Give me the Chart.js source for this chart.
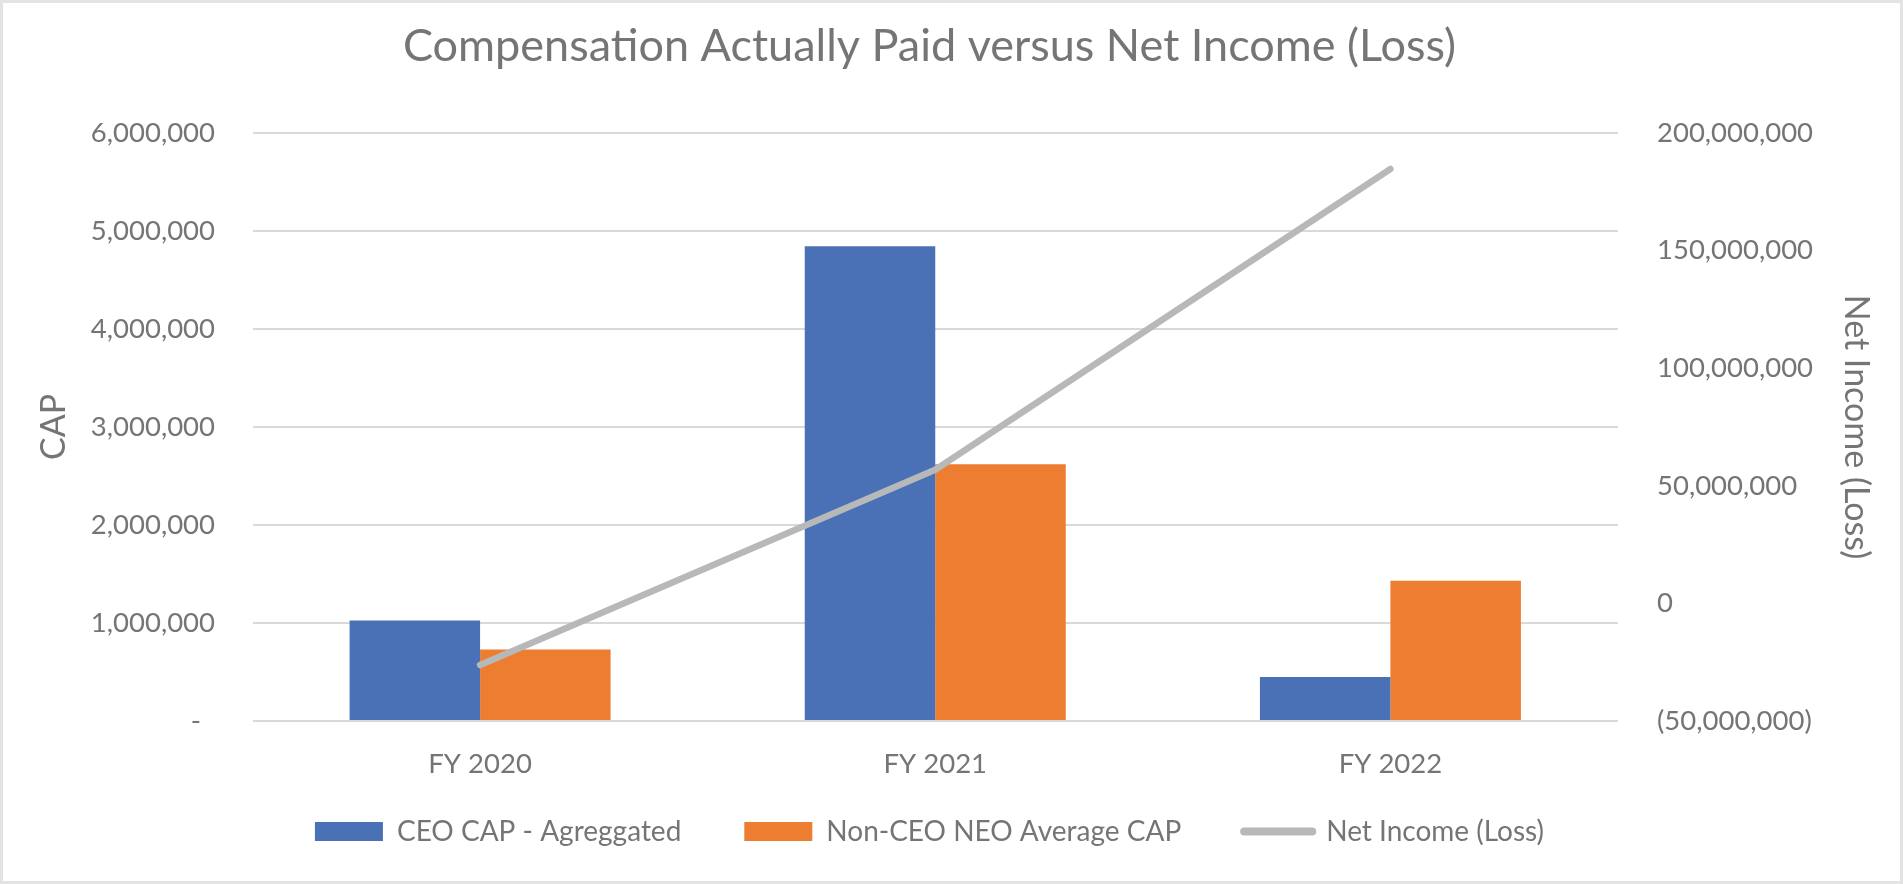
<!DOCTYPE html>
<html>
<head>
<meta charset="utf-8">
<script src="https://cdn.jsdelivr.net/npm/chart.js@4/dist/chart.umd.min.js"></script>
<style>
  html, body { margin: 0; padding: 0; background: #ffffff; overflow: hidden; }
  #wrap { position: absolute; left: -44px; top: 0; width: 1947px; height: 884px; }
  #frame { position: absolute; left: 0; top: 0; width: 1903px; height: 884px; box-sizing: border-box; border: 3px solid #e3e3e3; pointer-events: none; }
</style>
</head>
<body>
<div id="wrap"><canvas id="c" width="1947" height="884"></canvas></div>
<div id="frame"></div>
<script>
const chartTitle = 'Compensation Actually Paid versus Net Income (Loss)';
const categories = ['FY 2020', 'FY 2021', 'FY 2022'];
const seriesNames = ['CEO CAP - Agreggated', 'Non-CEO NEO Average CAP', 'Net Income (Loss)'];
const ceoCap = [1025000, 4845000, 450000];
const nonCeoCap = [730000, 2620000, 1430000];
const netIncome = [-26200000, 56800000, 184700000];
const leftAxisTitle = 'CAP';
const rightAxisTitle = 'Net Income (Loss)';
const leftTicks = [0, 1000000, 2000000, 3000000, 4000000, 5000000, 6000000];
const rightTicks = [-50000000, 0, 50000000, 100000000, 150000000, 200000000];

const TEXT = '#757575';
const BLUE = '#4a70b6';
const ORANGE = '#ed7d31';
const GRAY = '#b7b8ba';
Chart.defaults.font.family = 'Lato';
Chart.defaults.color = TEXT;

function fmt(v) { return Math.abs(v).toLocaleString('en-US'); }

new Chart(document.getElementById('c'), {
  type: 'bar',
  data: {
    labels: categories,
    datasets: [
      { label: seriesNames[0], data: ceoCap, backgroundColor: BLUE, yAxisID: 'y', order: 1,
        categoryPercentage: 0.5734, barPercentage: 1.0, borderWidth: 0 },
      { label: seriesNames[1], data: nonCeoCap, backgroundColor: ORANGE, yAxisID: 'y', order: 1,
        categoryPercentage: 0.5734, barPercentage: 1.0, borderWidth: 0 },
      { type: 'line', label: seriesNames[2], data: netIncome, borderColor: GRAY, backgroundColor: GRAY,
        borderWidth: 6.5, borderCapStyle: 'round', borderJoinStyle: 'round', pointRadius: 0,
        tension: 0, yAxisID: 'y1', order: 0 }
    ]
  },
  options: {
    responsive: false,
    animation: false,
    layout: { padding: { left: 0, right: 0, top: 0, bottom: 28.5 } },
    plugins: {
      tooltip: { enabled: false },
      title: {
        display: true, text: chartTitle, color: TEXT,
        font: { size: 45, weight: 'normal' },
        padding: { top: 19, bottom: 60 }
      },
      legend: {
        position: 'bottom',
        labels: {
          usePointStyle: true, pointStyleWidth: 68, boxHeight: 19,
          padding: 63, color: TEXT, font: { size: 28 },
          generateLabels: (chart) => chart.data.datasets.map((ds, i) => ({
            text: ds.label,
            fillStyle: ds.type === 'line' ? 'rgba(0,0,0,0)' : ds.backgroundColor,
            strokeStyle: ds.type === 'line' ? ds.borderColor : ds.backgroundColor,
            lineWidth: ds.type === 'line' ? 8 : 0,
            lineCap: 'round',
            pointStyle: ds.type === 'line' ? 'line' : 'rect',
            fontColor: TEXT,
            hidden: false,
            datasetIndex: i
          })),
          sort: (a, b) => a.datasetIndex - b.datasetIndex
        }
      }
    },
    scales: {
      x: {
        grid: { display: false, drawTicks: false },
        border: { display: false },
        ticks: { font: { size: 27.5 }, color: TEXT, padding: 27 },
        afterFit: (s) => { s.height = 33.5; s._computeLabelArea = () => undefined; }
      },
      y: {
        position: 'left',
        min: leftTicks[0], max: leftTicks[leftTicks.length - 1],
        afterBuildTicks: (s) => { s.ticks = leftTicks.map(v => ({ value: v })); },
        grid: { color: '#d9d9d9', lineWidth: 2, drawTicks: false },
        border: { display: false },
        ticks: { font: { size: 27.5 }, color: TEXT, padding: 37.5,
          callback: (v) => v === 0 ? '-  ' : fmt(v) },
        title: { display: true, text: leftAxisTitle, color: TEXT, font: { size: 34 }, padding: { top: 78, bottom: 0 } },
        afterFit: (s) => { s.width = 296.5; }
      },
      y1: {
        position: 'right',
        min: rightTicks[0], max: rightTicks[rightTicks.length - 1],
        afterBuildTicks: (s) => { s.ticks = rightTicks.map(v => ({ value: v })); },
        grid: { display: false, drawTicks: false },
        border: { display: false },
        ticks: { font: { size: 27.5 }, color: TEXT, padding: 39,
          callback: (v) => v < 0 ? '(' + fmt(v) + ')' : fmt(v) },
        title: { display: true, text: rightAxisTitle, color: TEXT, font: { size: 34 }, padding: { top: 26.6, bottom: 0 } },
        afterFit: (s) => { s.width = 285; }
      }
    }
  }
});
</script>
</body>
</html>
